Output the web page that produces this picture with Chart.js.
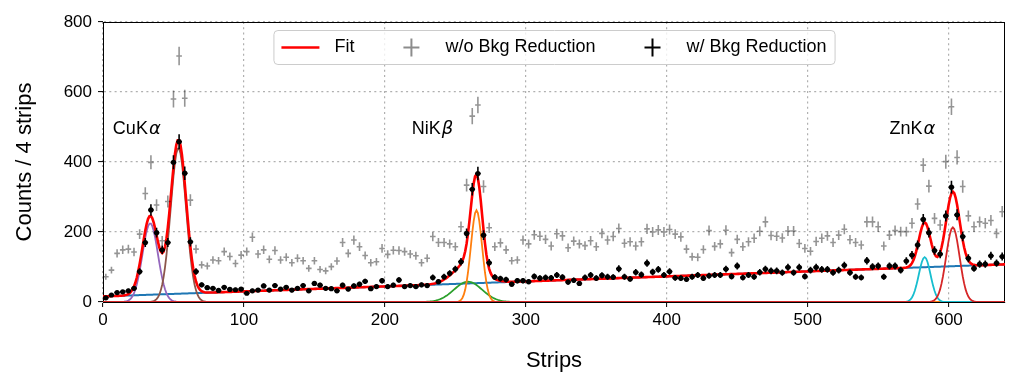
<!DOCTYPE html>
<html>
<head>
<meta charset="utf-8">
<script src="https://cdn.jsdelivr.net/npm/chart.js@4.4.0/dist/chart.umd.min.js"></script>
<style>
  html, body { margin: 0; padding: 0; background: #fff; }
</style>
</head>
<body>
<canvas id="myChart" width="1009" height="374"></canvas>
<script>
// bin centres (4 strips per bin)
var strips = [2,6,10,14,18,22,26,30,34,38,42,46,50,54,58,62,66,70,74,78,82,86,90,94,98,
  102,106,110,114,118,122,126,130,134,138,142,146,150,154,158,162,166,170,174,178,182,186,190,194,198,202,
  206,210,214,218,222,226,230,234,238,242,246,250,254,258,262,266,270,274,278,282,286,290,294,298,302,
  306,310,314,318,322,326,330,334,338,342,346,350,354,358,362,366,370,374,378,382,386,390,394,398,402,
  406,410,414,418,422,426,430,434,438,442,446,450,454,458,462,466,470,474,478,482,486,490,494,498,502,
  506,510,514,518,522,526,530,534,538,542,546,550,554,558,562,566,570,574,578,582,586,590,594,598,
  602,606,610,614,618,622,626,630,634,638];

var withBkgRed = [12,20,27,29,32,39,87,170,263,198,149,170,399,458,368,172,87,49,41,39,33,42,36,35,37,
  25,32,34,46,34,47,37,42,34,39,47,32,53,48,39,38,32,48,37,46,51,59,38,44,61,44,
  48,63,44,47,44,49,47,70,58,72,82,94,115,196,322,367,191,112,71,67,64,51,61,61,58,
  73,68,70,69,77,71,57,62,53,70,77,68,76,72,71,95,72,66,85,78,111,86,93,77,87,
  69,68,65,72,77,68,75,77,77,94,73,103,70,77,72,85,94,89,89,84,99,84,99,73,91,
  99,93,93,84,91,105,84,72,70,118,101,103,72,103,103,91,117,134,163,236,198,147,137,246,
  328,249,187,125,96,108,108,132,111,130];

var withoutBkgRed = [72,91,139,149,151,143,194,310,399,277,175,287,580,703,582,291,151,106,103,120,118,144,130,110,134,
  144,185,137,149,122,147,120,128,112,125,118,96,118,93,89,101,117,170,139,177,158,133,112,115,153,136,
  148,147,144,137,132,112,125,187,170,170,166,158,215,334,531,563,330,212,158,169,149,118,120,177,166,
  192,188,179,160,195,189,155,174,166,161,175,158,196,177,187,210,168,172,160,172,209,200,206,200,207,
  194,186,151,129,128,150,204,159,166,205,141,179,158,172,182,202,229,190,188,183,203,203,167,153,145,
  173,182,189,170,191,208,178,170,163,229,229,215,160,191,204,201,201,225,280,391,331,239,220,401,
  558,413,330,246,215,229,225,233,196,258];

// fit result: linear background + gaussian peaks
var bkgIntercept = 16;
var bkgSlope = 0.143;
var peakCenters = [33.5, 53.5, 259, 265, 583, 603];
var peakHeights = [225, 440, 58, 262, 128, 213];
var peakSigmas = [5.5, 5.5, 10, 4, 4.2, 4.8];

var xTicks = [0,100,200,300,400,500,600];
var yTicks = [0,200,400,600,800];
var lineLabels = ["CuK", "NiK", "ZnK"];
var lineGreek = ["\u03b1", "\u03b2", "\u03b1"];
var lineLabelX = [7, 219, 558];
var lineLabelY = [480, 480, 480];
var legendLabels = ["Fit", "w/o Bkg Reduction", "w/ Bkg Reduction"];

var peakColors = ["#9467bd", "#8c564b", "#2ca02c", "#ff7f0e", "#17becf", "#d62728"];
var FONT = "'Liberation Sans', Arial, sans-serif";

// sample the model on a fine grid
var fitStrips = [];
for (var s = 0; s <= 640; s += 1) fitStrips.push(s);

function bkg(x) { return bkgIntercept + bkgSlope * x; }
function gauss(x, k) {
  var d = (x - peakCenters[k]) / peakSigmas[k];
  return peakHeights[k] * Math.exp(-0.5 * d * d);
}
function total(x) {
  var v = bkg(x);
  for (var k = 0; k < peakCenters.length; k++) v += gauss(x, k);
  return v;
}

function pts(ys) { return strips.map(function (x, i) { return {x: x, y: ys[i]}; }); }

// index 0 is drawn last (on top)
var datasets = [
  { label: "w/ Bkg Reduction", data: pts(withBkgRed), showLine: false,
    pointRadius: 2.6, pointBackgroundColor: "#000", pointBorderWidth: 0, errColor: "#000" },
  { label: "w/o Bkg Reduction", data: pts(withoutBkgRed), showLine: false,
    pointRadius: 0, errColor: "rgba(0,0,0,0.42)" },
  { label: "Fit", data: fitStrips.map(function (x) { return {x: x, y: total(x)}; }),
    showLine: true, borderColor: "#ff0000", borderWidth: 2.6, pointRadius: 0 }
];
for (var k = peakCenters.length - 1; k >= 0; k--) {
  (function (k) {
    datasets.push({ label: "peak" + k,
      data: fitStrips.map(function (x) { return {x: x, y: gauss(x, k)}; }),
      showLine: true, borderColor: peakColors[k], borderWidth: 1.8, pointRadius: 0 });
  })(k);
}
datasets.push({ label: "bkg", data: fitStrips.map(function (x) { return {x: x, y: bkg(x)}; }),
  showLine: true, borderColor: "#1f77b4", borderWidth: 2, pointRadius: 0 });

var errorBars = {
  id: "errorBars",
  afterDatasetDraw: function (chart, args) {
    var ds = chart.data.datasets[args.index];
    if (!ds.errColor) return;
    var ctx = chart.ctx, xs = chart.scales.x, ys = chart.scales.y, a = chart.chartArea;
    ctx.save();
    ctx.beginPath(); ctx.rect(a.left, a.top, a.right - a.left, a.bottom - a.top); ctx.clip();
    ctx.strokeStyle = ds.errColor;
    ctx.lineWidth = 1.6;
    ds.data.forEach(function (p) {
      var e = Math.sqrt(p.y);
      var px = xs.getPixelForValue(p.x), py = ys.getPixelForValue(p.y);
      ctx.beginPath();
      ctx.moveTo(xs.getPixelForValue(p.x - 2), py);
      ctx.lineTo(xs.getPixelForValue(p.x + 2), py);
      ctx.moveTo(px, ys.getPixelForValue(p.y - e));
      ctx.lineTo(px, ys.getPixelForValue(p.y + e));
      ctx.stroke();
    });
    ctx.restore();
  }
};

var decorations = {
  id: "decorations",
  beforeDatasetsDraw: function (chart) {
    var ctx = chart.ctx, a = chart.chartArea;
    ctx.save();
    ctx.strokeStyle = "#000";
    ctx.lineWidth = 1;
    ctx.strokeRect(a.left + 0.5, a.top + 0.5, a.right - a.left - 1, a.bottom - a.top);
    ctx.restore();
  },
  afterDatasetsDraw: function (chart) {
    var ctx = chart.ctx, xs = chart.scales.x, ys = chart.scales.y;
    ctx.save();
    ctx.fillStyle = "#000";
    ctx.textBaseline = "alphabetic";
    for (var i = 0; i < lineLabels.length; i++) {
      var x = xs.getPixelForValue(lineLabelX[i]), y = ys.getPixelForValue(lineLabelY[i]);
      ctx.font = "18px " + FONT;
      ctx.fillText(lineLabels[i], x, y);
      var w = ctx.measureText(lineLabels[i]).width;
      ctx.font = "italic 18px 'DejaVu Sans', sans-serif";
      ctx.fillText(lineGreek[i], x + w + 1, y);
    }
    ctx.restore();
  },
  afterDraw: function (chart) {
    var ctx = chart.ctx, a = chart.chartArea;
    ctx.save();
    ctx.font = "18px " + FONT;
    var handleLen = 38, textPad = 15, colGap = 38, boxPad = 8;
    var widths = legendLabels.map(function (t) { return ctx.measureText(t).width; });
    var inner = 0;
    widths.forEach(function (w) { inner += handleLen + textPad + w; });
    inner += colGap * (legendLabels.length - 1);
    var boxW = inner + 2 * boxPad, boxH = 34;
    var x0 = (a.left + a.right) / 2 - boxW / 2, y0 = a.top + 8;
    ctx.beginPath();
    ctx.roundRect(x0 + 0.5, y0 + 0.5, boxW, boxH, 4);
    ctx.fillStyle = "rgba(255,255,255,0.8)";
    ctx.fill();
    ctx.strokeStyle = "#cccccc";
    ctx.lineWidth = 1;
    ctx.stroke();
    var x = x0 + boxPad, yc = y0 + boxH / 2 + 0.5;
    legendLabels.forEach(function (t, i) {
      ctx.beginPath();
      if (i === 0) {
        ctx.strokeStyle = "#ff0000"; ctx.lineWidth = 2.6;
        ctx.moveTo(x, yc); ctx.lineTo(x + handleLen, yc);
      } else {
        ctx.strokeStyle = i === 1 ? "rgba(0,0,0,0.45)" : "#000"; ctx.lineWidth = 2;
        var cx = x + handleLen / 2;
        ctx.moveTo(cx - 8, yc); ctx.lineTo(cx + 8, yc);
        ctx.moveTo(cx, yc - 9); ctx.lineTo(cx, yc + 9);
      }
      ctx.stroke();
      ctx.fillStyle = "#000";
      ctx.textBaseline = "middle";
      ctx.fillText(t, x + handleLen + textPad, yc);
      x += handleLen + textPad + widths[i] + colGap;
    });
    ctx.restore();
  }
};

Chart.defaults.font.family = FONT;
Chart.defaults.color = "#000";

new Chart("myChart", {
  type: "scatter",
  data: { datasets: datasets },
  options: {
    responsive: false,
    animation: false,
    devicePixelRatio: 1,
    layout: { padding: { left: 0, right: 4, top: 22, bottom: 0 } },
    plugins: { legend: { display: false }, tooltip: { enabled: false } },
    scales: {
      x: {
        type: "linear", min: 0, max: 640,
        afterBuildTicks: function (s) { s.ticks = xTicks.map(function (v) { return {value: v}; }); },
        afterFit: function (s) { s.height = 72; },
        ticks: { font: { size: 17 }, color: "#000", padding: 3, maxRotation: 0 },
        grid: { color: "#b0b0b0", lineWidth: 1.2, tickColor: "#000", tickLength: 5, tickWidth: 1 },
        border: { display: true, color: "#000", width: 1, dash: [2, 3.3] },
        title: { display: true, text: "Strips", font: { size: 22 }, padding: { top: 0, bottom: 0 } }
      },
      y: {
        type: "linear", min: 0, max: 800,
        afterBuildTicks: function (s) { s.ticks = yTicks.map(function (v) { return {value: v}; }); },
        afterFit: function (s) { s.width = 103; },
        ticks: { font: { size: 17 }, color: "#000", padding: 6 },
        grid: { color: "#b0b0b0", lineWidth: 1.2, tickColor: "#000", tickLength: 5, tickWidth: 1 },
        border: { display: true, color: "#000", width: 1, dash: [2, 3.3] },
        title: { display: true, text: "Counts / 4 strips", font: { size: 22 }, padding: { top: 12, bottom: 0 } }
      }
    }
  },
  plugins: [errorBars, decorations]
});
</script>
</body>
</html>
